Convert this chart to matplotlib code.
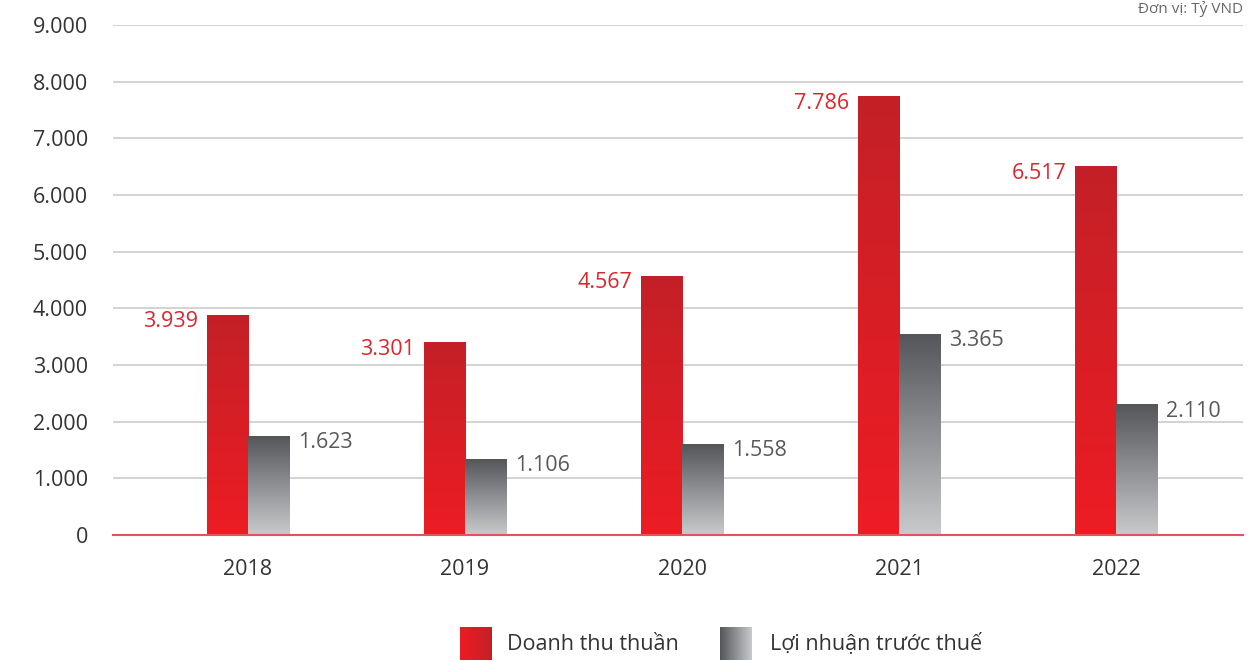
import numpy as np
import matplotlib
matplotlib.use("Agg")
import matplotlib.pyplot as plt
from matplotlib.colors import LinearSegmentedColormap
from matplotlib.ticker import FuncFormatter, MultipleLocator

plt.rcParams['font.family'] = ['Open Sans', 'DejaVu Sans']

years = ['2018', '2019', '2020', '2021', '2022']
revenue = [3880, 3390, 4570, 7730, 6495]          # bar heights as drawn
profit = [1745, 1340, 1605, 3545, 2295]
revenue_labels = ['3.939', '3.301', '4.567', '7.786', '6.517']
profit_labels = ['1.623', '1.106', '1.558', '3.365', '2.110']
series_names = ['Doanh thu thuần', 'Lợi nhuận trước thuế']
unit_text = 'Đơn vị: Tỷ VND'

red_cmap = LinearSegmentedColormap.from_list('r', ['#c42027', '#ed1c24'])
gray_cmap = LinearSegmentedColormap.from_list('g', ['#55565a', '#c9cacc'])

W, H = 1253, 661
fig = plt.figure(figsize=(W / 100, H / 100), dpi=100)
ax = fig.add_axes([113 / W, 1 - 535 / H, (1243 - 113) / W, (535 - 25) / H])

xlim = (-0.622, 4.585)
ylim = (0, 9000)

bw = 0.19
x = np.arange(len(years))
grad = np.linspace(0, 1, 256).reshape(-1, 1)

for i in range(len(years)):
    x0 = x[i] - bw
    ax.imshow(grad, cmap=red_cmap, extent=(x0, x0 + bw, 0, revenue[i]),
              origin='upper', aspect='auto', zorder=3, interpolation='bicubic')
    x1 = x[i]
    ax.imshow(grad, cmap=gray_cmap, extent=(x1, x1 + bw, 0, profit[i]),
              origin='upper', aspect='auto', zorder=3, interpolation='bicubic')
    ax.text(x0 - 0.04, revenue[i] - 120, revenue_labels[i], ha='right', va='center',
            fontsize=15.5, color='#e1242c')
    ax.text(x1 + bw + 0.04, profit[i] - 120, profit_labels[i], ha='left', va='center',
            fontsize=15.5, color='#58595b')

ax.set_xlim(*xlim)
ax.set_ylim(*ylim)

ax.yaxis.set_major_locator(MultipleLocator(1000))
ax.yaxis.set_major_formatter(FuncFormatter(lambda v, p: f"{int(v):,}".replace(',', '.')))
ax.set_xticks(x)
ax.set_xticklabels(years)
ax.tick_params(axis='both', length=0, labelsize=15.5, labelcolor='#333333')
ax.tick_params(axis='y', pad=18)
ax.tick_params(axis='x', pad=17)
ax.grid(axis='y', color='#d3d3d3', linewidth=1.4, zorder=0)
ax.set_axisbelow(True)
for s in ['top', 'right', 'left']:
    ax.spines[s].set_visible(False)
ax.spines['bottom'].set_color('#e8505a')
ax.spines['bottom'].set_linewidth(1.5)
ax.spines['bottom'].set_zorder(4)

# legend
hgrad = np.linspace(0, 1, 256).reshape(1, -1)
sw1 = fig.add_axes([460 / W, 1 - 660 / H, 32 / W, 33 / H])
sw1.imshow(hgrad, cmap=LinearSegmentedColormap.from_list('lr', ['#ed1c24', '#c42027']), aspect='auto')
sw1.axis('off')
sw2 = fig.add_axes([720 / W, 1 - 660 / H, 32 / W, 33 / H])
sw2.imshow(hgrad, cmap=LinearSegmentedColormap.from_list('lg', ['#55565a', '#c9cacc']), aspect='auto')
sw2.axis('off')
fig.text(507 / W, 1 - 644 / H, series_names[0], fontsize=15.5, color='#333333', va='center', ha='left')
fig.text(770 / W, 1 - 644 / H, series_names[1], fontsize=15.5, color='#333333', va='center', ha='left')

fig.text(1243 / W, 1 - 9 / H, unit_text, fontsize=11, color='#666666', va='center', ha='right')

fig.savefig('out.png', dpi=100)
